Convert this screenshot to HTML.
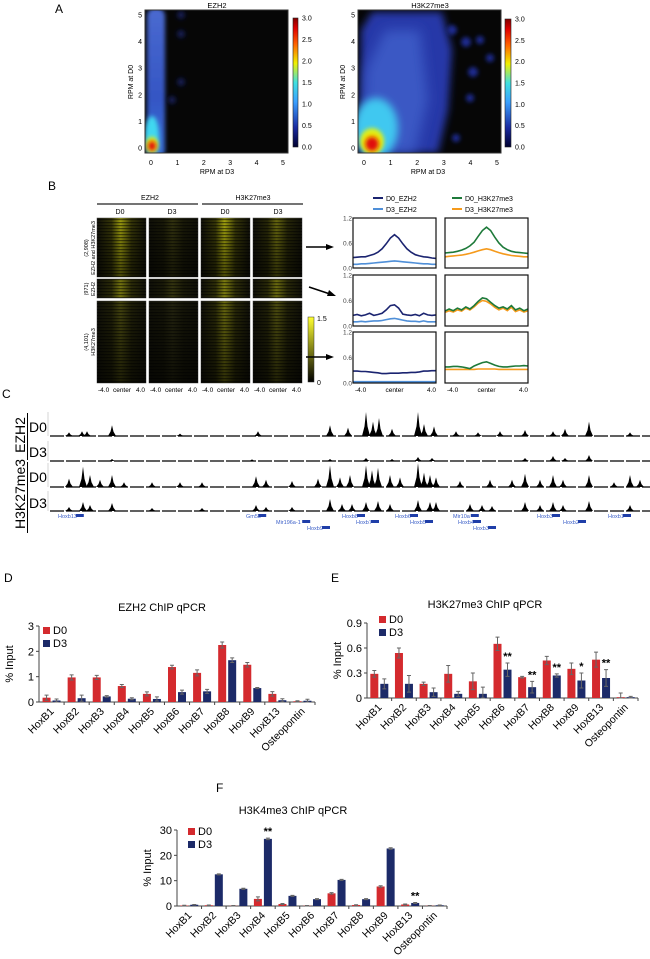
<!DOCTYPE html>
<html><head><meta charset="utf-8"><style>
body{margin:0;background:#fff}
svg{display:block;font-family:"Liberation Sans",sans-serif}
</style></head><body>
<svg id="fig" width="650" height="959" viewBox="0 0 650 959">
<defs>
<filter id="blur4" x="-50%" y="-50%" width="200%" height="200%"><feGaussianBlur stdDeviation="4"/></filter>
<filter id="blur6" x="-50%" y="-50%" width="200%" height="200%"><feGaussianBlur stdDeviation="6"/></filter>
<filter id="blur2" x="-50%" y="-50%" width="200%" height="200%"><feGaussianBlur stdDeviation="2"/></filter>
<linearGradient id="jet" x1="0" y1="1" x2="0" y2="0">
<stop offset="0" stop-color="#000030"/><stop offset="0.15" stop-color="#1a2aa0"/><stop offset="0.35" stop-color="#3aa0ff"/><stop offset="0.5" stop-color="#40e0e0"/><stop offset="0.65" stop-color="#f0f000"/><stop offset="0.8" stop-color="#ff6000"/><stop offset="0.92" stop-color="#e00000"/><stop offset="1" stop-color="#800000"/></linearGradient>
<linearGradient id="ylw" x1="0" y1="1" x2="0" y2="0"><stop offset="0" stop-color="#000"/><stop offset="1" stop-color="#ffff30"/></linearGradient>
<linearGradient id="colfade" x1="0" y1="0" x2="0" y2="1"><stop offset="0" stop-color="#4a6ad0"/><stop offset="0.6" stop-color="#3556c4"/><stop offset="1" stop-color="#3a70d8"/></linearGradient>
<linearGradient id="vfade" x1="0" y1="0" x2="0" y2="1"><stop offset="0" stop-color="#000" stop-opacity="0"/><stop offset="1" stop-color="#000" stop-opacity="0.55"/></linearGradient>
<clipPath id="clipA1"><rect x="145" y="10" width="143" height="143"/></clipPath>
<clipPath id="clipA2"><rect x="358" y="10" width="143" height="143"/></clipPath>
<pattern id="rows" width="4" height="3" patternUnits="userSpaceOnUse"><rect width="4" height="1.2" fill="#000" opacity="0.5"/></pattern>
</defs>

<!-- Panel A -->
<text x="55" y="13" font-size="12">A</text>
<g>
<text x="217" y="8" font-size="7.5" text-anchor="middle">EZH2</text>
<rect x="145" y="10" width="143" height="143" fill="#060606"/>
<g clip-path="url(#clipA1)">
<rect x="147" y="8" width="18" height="150" rx="8" fill="url(#colfade)" filter="url(#blur2)"/>
<circle cx="181" cy="15" r="4" fill="#121a50" filter="url(#blur2)"/>
<circle cx="181" cy="34" r="4" fill="#121a50" filter="url(#blur2)"/>
<circle cx="181" cy="82" r="4" fill="#121a50" filter="url(#blur2)"/>
<circle cx="172" cy="100" r="4" fill="#121a50" filter="url(#blur2)"/>
<ellipse cx="152" cy="136" rx="7" ry="20" fill="#40d8f0" filter="url(#blur2)"/>
<ellipse cx="152" cy="145" rx="6" ry="8" fill="#f0f000" filter="url(#blur2)"/>
<ellipse cx="152" cy="146" rx="4" ry="5" fill="#e01010" filter="url(#blur2)"/>
</g>
<rect x="145" y="10" width="143" height="143" fill="none" stroke="#333" stroke-width="1"/>
<rect x="293" y="18" width="5" height="129" fill="url(#jet)" stroke="#222" stroke-width="0.6"/>
<g id="a1ticks" font-size="7"></g>
<text x="217" y="174" font-size="7" text-anchor="middle">RPM at D3</text>
<text transform="translate(133,82) rotate(-90)" font-size="7" text-anchor="middle">RPM at D0</text>
</g>
<g>
<text x="430" y="8" font-size="7.5" text-anchor="middle">H3K27me3</text>
<rect x="358" y="10" width="143" height="143" fill="#060606"/>
<g clip-path="url(#clipA2)">
<path d="M360 153 L361 30 L372 12 L442 12 L452 50 L448 110 L438 153 Z" fill="#2838a8" filter="url(#blur4)"/>
<path d="M362 153 L366 70 L385 30 L420 30 L428 100 L415 153 Z" fill="#3a58c4" filter="url(#blur6)"/>
<circle cx="452" cy="30" r="5" fill="#1c2a90" filter="url(#blur2)"/>
<circle cx="466" cy="42" r="5" fill="#1c2a90" filter="url(#blur2)"/>
<circle cx="480" cy="40" r="4" fill="#1c2a90" filter="url(#blur2)"/>
<circle cx="490" cy="58" r="4" fill="#1c2a90" filter="url(#blur2)"/>
<circle cx="473" cy="72" r="5" fill="#1c2a90" filter="url(#blur2)"/>
<circle cx="470" cy="98" r="4" fill="#1c2a90" filter="url(#blur2)"/>
<circle cx="456" cy="138" r="4" fill="#1c2a90" filter="url(#blur2)"/>
<ellipse cx="376" cy="128" rx="22" ry="30" fill="#40c8f0" filter="url(#blur4)"/>
<ellipse cx="372" cy="141" rx="12" ry="13" fill="#d8f020" filter="url(#blur2)"/>
<ellipse cx="372" cy="143" rx="9" ry="10" fill="#f0e000" filter="url(#blur2)"/>
<ellipse cx="372" cy="144" rx="6.5" ry="7" fill="#e01010" filter="url(#blur2)"/>
</g>
<rect x="358" y="10" width="143" height="143" fill="none" stroke="#333" stroke-width="1"/>
<rect x="505" y="19" width="6" height="128" fill="url(#jet)" stroke="#222" stroke-width="0.6"/>
<g id="a2ticks" font-size="7"></g>
<text x="428" y="174" font-size="7" text-anchor="middle">RPM at D3</text>
<text transform="translate(345,82) rotate(-90)" font-size="7" text-anchor="middle">RPM at D0</text>
</g>

<!-- Panel B -->
<text x="48" y="190" font-size="12">B</text>
<g id="panelB">
<text x="150" y="200" font-size="7" text-anchor="middle">EZH2</text>
<line x1="97" y1="204" x2="198" y2="204" stroke="#222" stroke-width="1.3"/>
<text x="253" y="200" font-size="7" text-anchor="middle">H3K27me3</text>
<line x1="202" y1="204" x2="303" y2="204" stroke="#222" stroke-width="1.3"/>
<text x="120" y="214" font-size="7" text-anchor="middle">D0</text>
<text x="172" y="214" font-size="7" text-anchor="middle">D3</text>
<text x="225" y="214" font-size="7" text-anchor="middle">D0</text>
<text x="278" y="214" font-size="7" text-anchor="middle">D3</text>
<text transform="translate(88,248) rotate(-90)" font-size="5.5" text-anchor="middle">(2,908)</text>
<text transform="translate(95,248) rotate(-90)" font-size="5.5" text-anchor="middle">EZH2 and H3K27me3</text>
<text transform="translate(88,289) rotate(-90)" font-size="5.5" text-anchor="middle">(971)</text>
<text transform="translate(95,289) rotate(-90)" font-size="5.5" text-anchor="middle">EZH2</text>
<text transform="translate(88,342) rotate(-90)" font-size="5.5" text-anchor="middle">(4,101)</text>
<text transform="translate(95,342) rotate(-90)" font-size="5.5" text-anchor="middle">H3K27me3</text>
<g id="heatCells"></g>
<rect x="308" y="317" width="6" height="65" fill="url(#ylw)" stroke="#333" stroke-width="0.5"/>
<text x="317" y="321" font-size="7">1.5</text>
<text x="317" y="385" font-size="7">0</text>
<g font-size="6.5" id="heatX"></g>
<g stroke="#000" stroke-width="1.5">
<line x1="306" y1="247" x2="328" y2="247"/><line x1="309" y1="287" x2="330" y2="294"/><line x1="306" y1="357" x2="328" y2="357"/></g>
<g fill="#000"><path d="M334 247 L326 244 L326 250 Z"/><path d="M336 296 L327 296 L329 290 Z"/><path d="M334 357 L326 354 L326 360 Z"/></g>
<g id="profiles"></g>
<g font-size="7">
<line x1="373" y1="198" x2="383" y2="198" stroke="#1b2470" stroke-width="2"/><text x="386" y="201">D0_EZH2</text>
<line x1="373" y1="209" x2="383" y2="209" stroke="#4f8fd8" stroke-width="2"/><text x="386" y="212">D3_EZH2</text>
<line x1="452" y1="198" x2="462" y2="198" stroke="#1e7a3a" stroke-width="2"/><text x="465" y="201">D0_H3K27me3</text>
<line x1="452" y1="209" x2="462" y2="209" stroke="#f59a1c" stroke-width="2"/><text x="465" y="212">D3_H3K27me3</text>
</g>
</g>

<!-- Panel C -->
<text x="2" y="398" font-size="12">C</text>
<g id="panelC">
<text x="29" y="432" font-size="14">D0</text>
<text x="29" y="457" font-size="14">D3</text>
<text transform="translate(25,435) rotate(-90)" font-size="14" text-anchor="middle">EZH2</text>
<line x1="27.5" y1="413" x2="27.5" y2="460" stroke="#000"/>
<text x="29" y="482" font-size="14">D0</text>
<text x="29" y="508" font-size="14">D3</text>
<text transform="translate(25,494) rotate(-90)" font-size="14" text-anchor="middle">H3K27me3</text>
<line x1="27.5" y1="462" x2="27.5" y2="533" stroke="#000"/>
<g id="tracks"></g>
<g id="genes" font-size="5.5" fill="#3b5fc8"></g>
</g>

<!-- Panels D/E/F -->
<text x="4" y="582" font-size="12">D</text>
<text x="331" y="582" font-size="12">E</text>
<text x="216" y="792" font-size="12">F</text>
<g id="chartD"></g>
<g id="chartE"></g>
<g id="chartF"></g>
</svg>
<script>
// ---- qPCR data ----
const genes = ['HoxB1','HoxB2','HoxB3','HoxB4','HoxB5','HoxB6','HoxB7','HoxB8','HoxB9','HoxB13','Osteopontin'];
const ezh2D0 = [0.17,0.97,0.97,0.63,0.32,1.38,1.15,2.25,1.47,0.32,0.03];
const ezh2D3 = [0.06,0.15,0.22,0.13,0.12,0.39,0.42,1.65,0.55,0.07,0.05];
const ezh2E0 = [0.1,0.1,0.08,0.06,0.08,0.07,0.12,0.12,0.09,0.09,0.02];
const ezh2E3 = [0.06,0.12,0.03,0.04,0.08,0.08,0.08,0.09,0.02,0.06,0.06];
const h3k27D0 = [0.29,0.54,0.17,0.29,0.20,0.65,0.25,0.45,0.35,0.46,0.01];
const h3k27D3 = [0.17,0.17,0.07,0.05,0.05,0.34,0.13,0.27,0.21,0.24,0.01];
const h3k27E0 = [0.04,0.06,0.02,0.10,0.10,0.08,0.01,0.05,0.07,0.09,0.05];
const h3k27E3 = [0.06,0.10,0.05,0.03,0.08,0.08,0.07,0.02,0.09,0.10,0.01];
const h3k27Stars = ['','','','','','**','**','**','*','**',''];
const h3k4D0 = [0.2,0.3,0.1,2.8,0.8,0.1,5.0,0.4,7.7,0.6,0.1];
const h3k4D3 = [0.5,12.5,6.8,26.5,4.0,2.7,10.3,2.7,22.7,1.2,0.3];
const h3k4E0 = [0.1,0.1,0.1,0.8,0.2,0.1,0.3,0.1,0.3,0.2,0.1];
const h3k4E3 = [0.1,0.2,0.2,0.3,0.2,0.2,0.2,0.2,0.3,0.2,0.1];
const h3k4Stars = ['','','','**','','','','','','**',''];
const ticksD = [0,1,2,3];
const ticksE = [0,0.3,0.6,0.9];
const ticksF = [0,10,20,30];

// ---- Panel B profile data (centre ±4 kb, 21 points) ----
const profX = [-4,-3.6,-3.2,-2.8,-2.4,-2,-1.6,-1.2,-0.8,-0.4,0,0.4,0.8,1.2,1.6,2,2.4,2.8,3.2,3.6,4];
const p1D0Ezh2 = [0.25,0.26,0.27,0.27,0.30,0.33,0.38,0.46,0.58,0.72,0.80,0.72,0.58,0.46,0.38,0.32,0.29,0.27,0.26,0.24,0.23];
const p1D3Ezh2 = [0.09,0.09,0.10,0.10,0.11,0.12,0.13,0.14,0.15,0.16,0.17,0.16,0.15,0.14,0.13,0.12,0.11,0.10,0.10,0.09,0.09];
const p1D0H3 = [0.36,0.37,0.38,0.40,0.43,0.47,0.53,0.62,0.76,0.90,0.98,0.90,0.74,0.60,0.50,0.44,0.40,0.38,0.37,0.36,0.35];
const p1D3H3 = [0.27,0.28,0.29,0.30,0.31,0.33,0.35,0.38,0.41,0.44,0.46,0.44,0.40,0.37,0.34,0.32,0.30,0.29,0.28,0.27,0.27];
const p2D0Ezh2 = [0.25,0.27,0.24,0.26,0.30,0.25,0.27,0.30,0.38,0.48,0.50,0.42,0.28,0.26,0.25,0.27,0.24,0.30,0.26,0.25,0.26];
const p2D3Ezh2 = [0.10,0.10,0.11,0.10,0.11,0.12,0.12,0.13,0.15,0.17,0.18,0.16,0.14,0.12,0.11,0.11,0.10,0.12,0.10,0.10,0.10];
const p2D0H3 = [0.35,0.40,0.36,0.42,0.38,0.45,0.40,0.48,0.58,0.66,0.64,0.56,0.48,0.42,0.45,0.40,0.48,0.38,0.42,0.36,0.40];
const p2D3H3 = [0.32,0.36,0.33,0.38,0.35,0.42,0.38,0.45,0.54,0.60,0.58,0.52,0.44,0.38,0.42,0.36,0.44,0.34,0.38,0.33,0.36];
const p3D0Ezh2 = [0.28,0.28,0.27,0.27,0.26,0.25,0.24,0.22,0.22,0.23,0.23,0.23,0.24,0.24,0.25,0.25,0.26,0.28,0.28,0.29,0.29];
const p3D3Ezh2 = [0.03,0.03,0.03,0.03,0.03,0.03,0.03,0.03,0.03,0.03,0.03,0.03,0.03,0.03,0.03,0.03,0.03,0.03,0.03,0.03,0.03];
const p3D0H3 = [0.38,0.38,0.39,0.39,0.38,0.36,0.34,0.40,0.44,0.48,0.50,0.46,0.42,0.39,0.38,0.38,0.39,0.40,0.40,0.41,0.40];
const p3D3H3 = [0.32,0.32,0.32,0.32,0.32,0.32,0.32,0.32,0.33,0.33,0.33,0.33,0.33,0.32,0.32,0.32,0.32,0.32,0.32,0.32,0.32];

// ---- Panel C track data: position (kb from left), relative height ----
const trEzh2D0Pos = [17,30,35,60,128,206,278,296,314,321,327,340,366,372,382,404,426,448,473,501,513,537,578];
const trEzh2D0H   = [0.15,0.2,0.2,0.45,0.1,0.2,0.45,0.35,1.0,0.6,0.75,0.3,1.0,0.5,0.4,0.2,0.15,0.2,0.25,0.2,0.3,0.6,0.15];
const trEzh2D3Pos = [60,200,278,314,340,366,380,473,501,513,537];
const trEzh2D3H   = [0.1,0.08,0.1,0.15,0.1,0.2,0.15,0.15,0.25,0.15,0.3];
const trH3D0Pos = [17,31,38,48,60,72,100,128,150,204,214,240,266,278,288,298,314,320,326,338,348,366,372,378,384,408,438,460,473,488,501,511,537,562,578,588];
const trH3D0H   = [0.35,0.85,0.5,0.3,0.5,0.2,0.2,0.2,0.2,0.45,0.3,0.25,0.35,0.9,0.4,0.5,0.9,0.7,0.8,0.5,0.4,1.0,0.6,0.5,0.4,0.25,0.3,0.3,0.55,0.3,0.5,0.3,0.5,0.2,0.5,0.3];
const trH3D3Pos = [17,31,38,60,100,150,204,214,240,278,290,300,314,326,338,366,378,384,418,430,440,473,488,501,511,537,578];
const trH3D3H   = [0.2,0.45,0.3,0.4,0.15,0.15,0.3,0.2,0.2,0.6,0.35,0.35,0.45,0.5,0.35,0.55,0.45,0.45,0.35,0.3,0.25,0.45,0.3,0.45,0.3,0.5,0.3];
const geneNames = ['Hoxb13','Gm53','Mir196a-1','Hoxb9','Hoxb8','Hoxb7','Hoxb6','Hoxb5','Mir10a','Hoxb4','Hoxb3','Hoxb3','Hoxb2','Hoxb1'];
const genePos   = [6,194,224,255,290,304,343,358,401,406,421,485,511,556];
const geneRow   = [0,0,1,2,0,1,0,1,0,1,2,0,1,0];

const NS='http://www.w3.org/2000/svg';
function mk(tag, attrs, parent){const e=document.createElementNS(NS,tag);for(const k in attrs)e.setAttribute(k,attrs[k]);parent.appendChild(e);return e;}
function txt(s, attrs, parent){const e=mk('text',attrs,parent);e.textContent=s;return e;}

// ---- Panel A ticks ----
function aTicks(g, x0, x5, y0, y5, cbx, cbTop, cbBot){
  for(let i=0;i<=5;i++){
    const x=x0+(x5-x0)*i/5, y=y0+(y5-y0)*i/5;
    txt(String(i),{x:x,y:165,'text-anchor':'middle'},g);
    txt(String(i),{x:x0-9,y:y+2.5,'text-anchor':'end'},g);
  }
  for(let i=0;i<=6;i++){
    const v=i*0.5, y=cbBot-(cbBot-cbTop)*i/6;
    txt(v.toFixed(1),{x:cbx,y:y+2.5},g);
  }
}
aTicks(document.getElementById('a1ticks'),151,283,148,15,302,18,147);
aTicks(document.getElementById('a2ticks'),364,497,148,15,515,19,147);

// ---- Panel B heatmaps ----
const hc=document.getElementById('heatCells');
const cols=[97,149,201,253], cw=49;
const rowsY=[[218,277],[279,298],[301,383]];
const intens=[[0.75,0.15,0.8,0.45],[0.5,0.15,0.55,0.45],[0.25,0.06,0.45,0.3]];
let gi=0;
rowsY.forEach((r,ri)=>{cols.forEach((cx,ci)=>{
  const id='hg'+(gi++);
  const lg=mk('linearGradient',{id:id,x1:0,y1:0,x2:1,y2:0},document.querySelector('defs'));
  const a=intens[ri][ci];
  mk('stop',{offset:0,'stop-color':'#101008'},lg);
  mk('stop',{offset:0.3,'stop-color':'rgb('+Math.round(50*a+18)+','+Math.round(50*a+18)+',8)'},lg);
  mk('stop',{offset:0.48,'stop-color':'rgb('+Math.round(180*a+25)+','+Math.round(180*a+25)+',15)'},lg);
  mk('stop',{offset:0.7,'stop-color':'rgb('+Math.round(50*a+18)+','+Math.round(50*a+18)+',8)'},lg);
  mk('stop',{offset:1,'stop-color':'#101008'},lg);
  const rc=mk('rect',{x:cx,y:r[0],width:cw,height:r[1]-r[0],fill:'url(#'+id+')',stroke:'#444','stroke-width':0.5},hc);
  
  
  mk('rect',{x:cx,y:r[0],width:cw,height:r[1]-r[0],fill:'url(#rows)'},hc);
  if(ri!==1) mk('rect',{x:cx,y:r[0],width:cw,height:r[1]-r[0],fill:'url(#vfade)'},hc);
});});
const hx=document.getElementById('heatX');
cols.forEach(cx=>{txt('-4.0',{x:cx+1,y:392},hx);txt('center',{x:cx+25,y:392,'text-anchor':'middle'},hx);txt('4.0',{x:cx+48,y:392,'text-anchor':'end'},hx);});

// ---- Panel B profiles ----
const pg=document.getElementById('profiles');
const boxes=[[218,268],[275,326],[332,383]];
const bx=[[353,436],[445,528]];
const series=[[[p1D0Ezh2,'#1b2470'],[p1D3Ezh2,'#4f8fd8']],[[p1D0H3,'#1e7a3a'],[p1D3H3,'#f59a1c']],
              [[p2D0Ezh2,'#1b2470'],[p2D3Ezh2,'#4f8fd8']],[[p2D0H3,'#1e7a3a'],[p2D3H3,'#f59a1c']],
              [[p3D0Ezh2,'#1b2470'],[p3D3Ezh2,'#4f8fd8']],[[p3D0H3,'#1e7a3a'],[p3D3H3,'#f59a1c']]];
boxes.forEach((b,ri)=>{
  bx.forEach((c,ci)=>{
    const sx=v=>c[0]+(v+4)/8*(c[1]-c[0]);
    const sy=v=>b[1]-v/1.2*(b[1]-b[0]);
    const s=series[ri*2+ci];
    s.slice().reverse().forEach(([arr,col])=>{
      const d=arr.map((v,i)=>(i?'L':'M')+sx(profX[i]).toFixed(1)+' '+sy(v).toFixed(1)).join(' ');
      const p=mk('path',{d:d,fill:'none',stroke:col,'stroke-width':1.6},pg);
      
      
    });
    mk('rect',{x:c[0],y:b[0],width:c[1]-c[0],height:b[1]-b[0],fill:'none',stroke:'#111','stroke-width':1.2},pg);
    if(ci===0){[0,0.6,1.2].forEach(t=>txt(t.toFixed(1),{x:c[0]-1,y:sy(t)+2.5,'font-size':6.5,'text-anchor':'end',fill:'#444'},pg));}
  });
});
bx.forEach(c=>{txt('-4.0',{x:c[0]+2,y:392,'font-size':6.5},pg);txt('center',{x:(c[0]+c[1])/2,y:392,'font-size':6.5,'text-anchor':'middle'},pg);txt('4.0',{x:c[1],y:392,'font-size':6.5,'text-anchor':'end'},pg);});

// ---- Panel C tracks ----
const tg=document.getElementById('tracks');
const gx=p=>52+p;
function track(pos,h,base,amp,name){
  mk('line',{x1:50,y1:base,x2:650,y2:base,stroke:'#000','stroke-width':1.2,'stroke-dasharray':'14 2'},tg);
  mk('line',{x1:48,y1:base-amp,x2:48,y2:base,stroke:'#aaa','stroke-width':0.5},tg);
  pos.forEach((p,i)=>{
    const x=gx(p), hh=h[i]*amp;
    const pk=mk('path',{d:'M'+(x-4)+' '+base+' L'+(x-1.5)+' '+(base-hh*0.4)+' L'+x+' '+(base-hh)+' L'+(x+1.5)+' '+(base-hh*0.4)+' L'+(x+4)+' '+base+' Z',fill:'#000'},tg);
    
    
  });
}
track(trEzh2D0Pos,trEzh2D0H,436,24,'ezh2-d0');
track(trEzh2D3Pos,trEzh2D3H,461,20,'ezh2-d3');
track(trH3D0Pos,trH3D0H,487,24,'h3k27me3-d0');
track(trH3D3Pos,trH3D3H,511,20,'h3k27me3-d3');
const gg=document.getElementById('genes');
geneNames.forEach((n,i)=>{
  const y=518+geneRow[i]*6;
  const t=txt(n,{x:gx(genePos[i]),y:y},gg);
  
  
  mk('rect',{x:gx(genePos[i])+n.length*2.8+1,y:y-4,width:8,height:3,fill:'#1f3ea8'},gg);
});

// ---- bar charts ----
function barChart(g, cfg, d0, d3, e0, e3, stars, ticks){
  const n=genes.length, gw=(cfg.x1-cfg.x0)/n;
  const sy=v=>cfg.y0-v/cfg.max*(cfg.y0-cfg.yTop);
  txt(cfg.title,{x:cfg.tx,y:cfg.ty,'font-size':11,'text-anchor':'middle'},g);
  mk('line',{x1:cfg.x0,y1:cfg.y0,x2:cfg.x1,y2:cfg.y0,stroke:'#444'},g);
  mk('line',{x1:cfg.x0,y1:cfg.y0,x2:cfg.x0,y2:cfg.yTop,stroke:'#444'},g);
  ticks.forEach(t=>{mk('line',{x1:cfg.x0-3,y1:sy(t),x2:cfg.x0,y2:sy(t),stroke:'#444'},g);
    txt(String(t),{x:cfg.x0-5,y:sy(t)+4,'font-size':11,'text-anchor':'end'},g);});
  txt('% Input',{transform:'translate('+(cfg.x0-26)+','+((cfg.y0+cfg.yTop)/2)+') rotate(-90)','font-size':11,'text-anchor':'middle'},g);
  genes.forEach((name,i)=>{
    const c=cfg.x0+gw*(i+0.5);
    mk('line',{x1:cfg.x0+gw*(i+1),y1:cfg.y0,x2:cfg.x0+gw*(i+1),y2:cfg.y0+3,stroke:'#444'},g);
    [[d0[i],e0[i],'#d42a2e',c-9],[d3[i],e3[i],'#1c2a68',c+1]].forEach(([v,e,col,x])=>{
      const r=mk('rect',{x:x,y:sy(v),width:8,height:cfg.y0-sy(v),fill:col},g);
      
      
      mk('path',{d:'M'+(x+4)+' '+sy(v+e)+' V'+sy(Math.max(0,v-e))+' M'+(x+2)+' '+sy(v+e)+' H'+(x+6)+' M'+(x+2)+' '+sy(Math.max(0,v-e))+' H'+(x+6),stroke:'#666','stroke-width':1},g);
    });
    if(stars[i]) txt(stars[i],{x:c+5,y:sy(d3[i]+e3[i])-3,'font-size':11,'font-weight':'bold','text-anchor':'middle'},g);
    const lb=txt(name,{transform:'translate('+(c+3)+','+(cfg.y0+10)+') rotate(-45)','font-size':10.5,'text-anchor':'end'},g);
    
    
  });
  mk('rect',{x:cfg.lx,y:cfg.ly-7,width:7,height:7,fill:'#d42a2e'},g);
  txt('D0',{x:cfg.lx+10,y:cfg.ly,'font-size':11},g);
  mk('rect',{x:cfg.lx,y:cfg.ly+6,width:7,height:7,fill:'#1c2a68'},g);
  txt('D3',{x:cfg.lx+10,y:cfg.ly+13,'font-size':11},g);
}
barChart(document.getElementById('chartD'),{x0:39,x1:315,y0:702,yTop:626,max:3,title:'EZH2 ChIP qPCR',tx:162,ty:611,lx:43,ly:634},ezh2D0,ezh2D3,ezh2E0,ezh2E3,genes.map(()=>''),ticksD);
barChart(document.getElementById('chartE'),{x0:367,x1:638,y0:698,yTop:623,max:0.9,title:'H3K27me3 ChIP qPCR',tx:485,ty:608,lx:379,ly:623},h3k27D0,h3k27D3,h3k27E0,h3k27E3,h3k27Stars,ticksE);
barChart(document.getElementById('chartF'),{x0:177,x1:447,y0:906,yTop:830,max:30,title:'H3K4me3 ChIP qPCR',tx:293,ty:814,lx:188,ly:835},h3k4D0,h3k4D3,h3k4E0,h3k4E3,h3k4Stars,ticksF);
</script>
</body></html>
